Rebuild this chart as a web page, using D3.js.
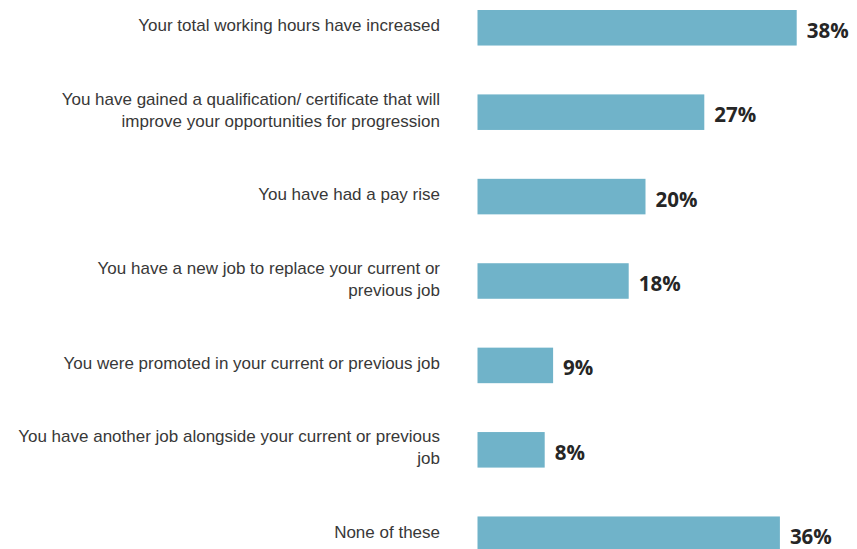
<!DOCTYPE html>
<html>
<head>
<meta charset="utf-8">
<script src="https://cdn.jsdelivr.net/npm/d3@7"></script>
<style>
  html, body { margin: 0; padding: 0; background: #ffffff; overflow: hidden; }
  svg { display: block; }
</style>
</head>
<body>
<svg id="chart" width="857" height="549"></svg>
<script>
// Survey outcomes, each category split into its display lines
const categories = [
  ["Your total working hours have increased"],
  ["You have gained a qualification/ certificate that will", "improve your opportunities for progression"],
  ["You have had a pay rise"],
  ["You have a new job to replace your current or", "previous job"],
  ["You were promoted in your current or previous job"],
  ["You have another job alongside your current or previous", "job"],
  ["None of these"]
];
const values = [38, 27, 20, 18, 9, 8, 36];

const width = 857, height = 549;
const svg = d3.select("#chart");

const keys = categories.map((c, i) => i);

const y = d3.scaleBand()
  .domain(keys)
  .range([10, 552])
  .paddingInner(0.579)
  .paddingOuter(0);

const x = d3.scaleLinear()
  .domain([0, 38])
  .range([477.5, 796.7]);

const labelRight = 440;
const lineGap = 22;

const rows = svg.selectAll("g.row")
  .data(keys)
  .join("g")
  .attr("class", "row");

// Bars
rows.append("rect")
  .attr("x", x(0))
  .attr("y", i => y(i))
  .attr("width", i => x(values[i]) - x(0))
  .attr("height", y.bandwidth())
  .attr("fill", "#70b3c9");

// Value labels
rows.append("text")
  .attr("x", i => x(values[i]) + 10)
  .attr("y", i => y(i) + y.bandwidth() / 2 + 2)
  .attr("dominant-baseline", "central")
  .attr("font-family", "'Open Sans', sans-serif")
  .attr("font-weight", 700)
  .attr("font-size", 20.5)
  .attr("fill", "#262626")
  .text(i => values[i] + "%");

// Category labels, right-aligned left of the bars
const cat = rows.append("text")
  .attr("text-anchor", "end")
  .attr("font-family", "'Liberation Sans', Arial, sans-serif")
  .attr("font-size", 17)
  .attr("fill", "#383838");

cat.each(function(i) {
  const lines = categories[i];
  const cy = y(i) + y.bandwidth() / 2;
  const top = cy - (lines.length - 1) * lineGap / 2;
  d3.select(this).selectAll("tspan")
    .data(lines)
    .join("tspan")
    .attr("x", labelRight)
    .attr("y", (d, k) => top + k * lineGap - 2)
    .attr("dominant-baseline", "central")
    .text(d => d);
});
</script>
</body>
</html>
